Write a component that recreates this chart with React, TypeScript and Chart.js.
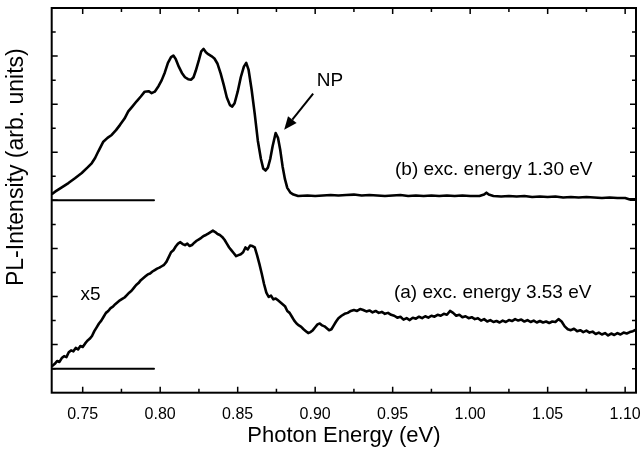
import React, { useEffect, useRef } from 'react';
import { Chart, registerables } from 'chart.js';
Chart.register(...registerables);

const FONT = "'Liberation Sans', Arial, Helvetica, sans-serif";

// (b) exc. energy 1.30 eV
const energyB = [
  0.7305, 0.7322, 0.7360, 0.7408, 0.7450, 0.7494, 0.7530, 0.7558, 0.7580, 0.7601, 0.7633,
  0.7660, 0.7687, 0.7715, 0.7741, 0.7770, 0.7794, 0.7820, 0.7848, 0.7875, 0.7900, 0.7925,
  0.7945, 0.7965, 0.7990, 0.8010, 0.8030, 0.8050, 0.8070, 0.8085, 0.8100, 0.8120, 0.8140,
  0.8160, 0.8180, 0.8200, 0.8215, 0.8230, 0.8250, 0.8265, 0.8280, 0.8295, 0.8310, 0.8330,
  0.8350, 0.8370, 0.8390, 0.8410, 0.8430, 0.8450, 0.8465, 0.8480, 0.8500, 0.8520, 0.8540,
  0.8555, 0.8570, 0.8590, 0.8610, 0.8630, 0.8650, 0.8665, 0.8680, 0.8695, 0.8710, 0.8725,
  0.8745, 0.8760, 0.8775, 0.8790, 0.8805, 0.8820, 0.8840, 0.8860, 0.8890, 0.8950, 0.9000,
  0.9050, 0.9100, 0.9150, 0.9200, 0.9250, 0.9300, 0.9350, 0.9400, 0.9450, 0.9500, 0.9550,
  0.9600, 0.9650, 0.9700, 0.9750, 0.9800, 0.9850, 0.9900, 0.9950, 1.0000, 1.0060, 1.0090,
  1.0105, 1.0120, 1.0150, 1.0200, 1.0250, 1.0300, 1.0350, 1.0400, 1.0450, 1.0500, 1.0550,
  1.0600, 1.0650, 1.0700, 1.0750, 1.0800, 1.0850, 1.0900, 1.0950, 1.1000, 1.1030, 1.1070,
];
const intensityB = [
  4.14, 4.18, 4.26, 4.36, 4.46, 4.57, 4.68, 4.77, 4.88, 5.02, 5.22,
  5.30, 5.36, 5.46, 5.57, 5.70, 5.85, 5.95, 6.06, 6.16, 6.26, 6.27,
  6.23, 6.26, 6.38, 6.50, 6.66, 6.86, 6.98, 7.01, 6.94, 6.78, 6.65,
  6.56, 6.52, 6.51, 6.56, 6.70, 6.92, 7.10, 7.15, 7.08, 7.04, 7.00,
  6.95, 6.84, 6.64, 6.40, 6.14, 5.98, 5.95, 6.02, 6.26, 6.56, 6.78,
  6.86, 6.72, 6.30, 5.80, 5.24, 4.86, 4.66, 4.62, 4.68, 4.86, 5.12,
  5.40, 5.30, 5.04, 4.70, 4.44, 4.26, 4.16, 4.12, 4.09, 4.10, 4.09,
  4.10, 4.11, 4.10, 4.11, 4.12, 4.10, 4.11, 4.10, 4.09, 4.10, 4.11,
  4.09, 4.10, 4.09, 4.10, 4.09, 4.10, 4.09, 4.10, 4.09, 4.09, 4.12,
  4.16, 4.12, 4.09, 4.08, 4.09, 4.08, 4.09, 4.07, 4.08, 4.07, 4.08,
  4.06, 4.07, 4.06, 4.07, 4.06, 4.05, 4.06, 4.05, 4.05, 4.02, 4.02,
];

// (a) exc. energy 3.53 eV (x5)
const energyA = [
  0.7305, 0.7320, 0.7335, 0.7350, 0.7365, 0.7380, 0.7395, 0.7410, 0.7425, 0.7440, 0.7455,
  0.7470, 0.7485, 0.7500, 0.7515, 0.7530, 0.7545, 0.7560, 0.7575, 0.7590, 0.7605, 0.7620,
  0.7635, 0.7650, 0.7665, 0.7680, 0.7695, 0.7710, 0.7725, 0.7740, 0.7755, 0.7770, 0.7785,
  0.7800, 0.7815, 0.7830, 0.7845, 0.7860, 0.7875, 0.7890, 0.7905, 0.7920, 0.7935, 0.7950,
  0.7965, 0.7980, 0.7995, 0.8010, 0.8025, 0.8040, 0.8055, 0.8070, 0.8085, 0.8100, 0.8115,
  0.8130, 0.8145, 0.8160, 0.8175, 0.8190, 0.8205, 0.8220, 0.8235, 0.8250, 0.8265, 0.8280,
  0.8295, 0.8310, 0.8325, 0.8340, 0.8355, 0.8370, 0.8385, 0.8400, 0.8415, 0.8430, 0.8445,
  0.8460, 0.8475, 0.8490, 0.8505, 0.8520, 0.8535, 0.8550, 0.8565, 0.8580, 0.8595, 0.8610,
  0.8625, 0.8640, 0.8655, 0.8670, 0.8685, 0.8700, 0.8715, 0.8730, 0.8745, 0.8760, 0.8775,
  0.8790, 0.8805, 0.8820, 0.8835, 0.8850, 0.8865, 0.8880, 0.8895, 0.8910, 0.8925, 0.8940,
  0.8955, 0.8970, 0.8985, 0.9000, 0.9015, 0.9030, 0.9045, 0.9060, 0.9075, 0.9090, 0.9105,
  0.9120, 0.9135, 0.9150, 0.9170, 0.9190, 0.9210, 0.9230, 0.9250, 0.9270, 0.9290, 0.9310,
  0.9330, 0.9350, 0.9370, 0.9390, 0.9410, 0.9430, 0.9450, 0.9470, 0.9490, 0.9510, 0.9530,
  0.9550, 0.9570, 0.9590, 0.9610, 0.9630, 0.9650, 0.9670, 0.9690, 0.9710, 0.9730, 0.9750,
  0.9770, 0.9790, 0.9810, 0.9830, 0.9850, 0.9870, 0.9890, 0.9910, 0.9930, 0.9950, 0.9970,
  0.9990, 1.0010, 1.0030, 1.0050, 1.0070, 1.0090, 1.0110, 1.0130, 1.0150, 1.0170, 1.0190,
  1.0210, 1.0230, 1.0250, 1.0270, 1.0290, 1.0310, 1.0330, 1.0350, 1.0370, 1.0390, 1.0410,
  1.0430, 1.0450, 1.0470, 1.0490, 1.0510, 1.0530, 1.0550, 1.0570, 1.0590, 1.0610, 1.0630,
  1.0650, 1.0670, 1.0690, 1.0710, 1.0730, 1.0750, 1.0770, 1.0790, 1.0810, 1.0830, 1.0850,
  1.0870, 1.0890, 1.0910, 1.0930, 1.0950, 1.0970, 1.0990, 1.1010, 1.1030, 1.1050, 1.1070,
];
const intensityA = [
  0.56, 0.60, 0.66, 0.64, 0.72, 0.76, 0.74, 0.84, 0.88, 0.86, 0.93,
  0.90, 0.97, 0.95, 1.02, 1.08, 1.12, 1.18, 1.28, 1.36, 1.44, 1.50,
  1.58, 1.66, 1.70, 1.76, 1.79, 1.84, 1.88, 1.92, 1.95, 1.98, 2.03,
  2.08, 2.12, 2.18, 2.24, 2.28, 2.34, 2.38, 2.42, 2.46, 2.48, 2.52,
  2.55, 2.58, 2.60, 2.63, 2.66, 2.72, 2.82, 2.92, 2.96, 3.04, 3.10,
  3.13, 3.09, 3.07, 3.10, 3.05, 3.07, 3.12, 3.16, 3.19, 3.22, 3.26,
  3.28, 3.31, 3.34, 3.37, 3.34, 3.30, 3.28, 3.24, 3.18, 3.10, 3.02,
  2.96, 2.90, 2.84, 2.86, 2.88, 2.92, 3.02, 2.98, 3.06, 3.05, 3.02,
  2.86, 2.68, 2.48, 2.26, 2.08, 1.99, 2.02, 1.94, 1.96, 1.92, 1.88,
  1.84, 1.80, 1.70, 1.66, 1.58, 1.50, 1.44, 1.40, 1.37, 1.32, 1.28,
  1.24, 1.26, 1.30, 1.36, 1.42, 1.44, 1.40, 1.38, 1.34, 1.30, 1.32,
  1.40, 1.48, 1.55, 1.60, 1.64, 1.66, 1.70, 1.72, 1.70, 1.74, 1.72,
  1.69, 1.71, 1.67, 1.70, 1.66, 1.68, 1.64, 1.66, 1.62, 1.60, 1.56,
  1.58, 1.52, 1.55, 1.51, 1.56, 1.54, 1.58, 1.55, 1.59, 1.56, 1.60,
  1.58, 1.62, 1.60, 1.64, 1.62, 1.70, 1.66, 1.60, 1.62, 1.57, 1.59,
  1.55, 1.57, 1.53, 1.55, 1.50, 1.53, 1.48, 1.51, 1.47, 1.49, 1.46,
  1.50, 1.47, 1.51, 1.49, 1.53, 1.50, 1.52, 1.48, 1.51, 1.47, 1.50,
  1.46, 1.49, 1.46, 1.48, 1.45, 1.48, 1.47, 1.53, 1.48, 1.38, 1.32,
  1.30, 1.33, 1.28, 1.30, 1.26, 1.29, 1.25, 1.27, 1.22, 1.25, 1.21,
  1.24, 1.19, 1.23, 1.20, 1.24, 1.21, 1.25, 1.23, 1.26, 1.28, 1.31,
];

// zero lines of both spectra
const baselineEnergy = [0.73, 0.796];
const baselineB = [4, 4];
const baselineA = [0.5, 0.5];

// axis ticks
const xMajorTicks = [0.75, 0.8, 0.85, 0.9, 0.95, 1.0, 1.05, 1.1];
const xMinorTicks = [0.775, 0.825, 0.875, 0.925, 0.975, 1.025, 1.075];
const yMajorTicks = [1, 2, 3, 4, 5, 6, 7];
const yMinorTicks = [0.5, 1.5, 2.5, 3.5, 4.5, 5.5, 6.5, 7.5];

const toPts = (xs: number[], ys: number[]) => xs.map((x, i) => ({ x, y: ys[i] }));

export default function App() {
  const ref = useRef<HTMLCanvasElement>(null);
  useEffect(() => {
    document.body.style.margin = '0';
    const decor = {
      id: 'decor',
      afterDraw(chart: any) {
        const { ctx, chartArea: a, scales } = chart;
        const x = scales.x, y = scales.y;
        ctx.save();
        ctx.strokeStyle = '#000';
        ctx.fillStyle = '#000';
        ctx.lineWidth = 2;
        ctx.strokeRect(a.left, a.top, a.right - a.left, a.bottom - a.top);
        ctx.lineWidth = 1.5;
        const xt = (vals: number[], len: number) => {
          vals.forEach((v) => {
            const p = x.getPixelForValue(v);
            ctx.beginPath();
            ctx.moveTo(p, a.bottom); ctx.lineTo(p, a.bottom - len);
            ctx.moveTo(p, a.top); ctx.lineTo(p, a.top + len);
            ctx.stroke();
          });
        };
        const yt = (vals: number[], len: number) => {
          vals.forEach((v) => {
            const p = y.getPixelForValue(v);
            ctx.beginPath();
            ctx.moveTo(a.left, p); ctx.lineTo(a.left + len, p);
            ctx.moveTo(a.right, p); ctx.lineTo(a.right - len, p);
            ctx.stroke();
          });
        };
        xt(xMajorTicks, 6); xt(xMinorTicks, 4);
        yt(yMajorTicks, 6); yt(yMinorTicks, 4);

        // annotations
        ctx.font = `19px ${FONT}`;
        ctx.textBaseline = 'middle';
        ctx.textAlign = 'left';
        ctx.fillText('(b) exc. energy 1.30 eV', x.getPixelForValue(0.9515), y.getPixelForValue(4.635));
        ctx.fillText('(a) exc. energy 3.53 eV', x.getPixelForValue(0.9508), y.getPixelForValue(2.075));
        ctx.textAlign = 'center';
        ctx.fillText('x5', x.getPixelForValue(0.755), y.getPixelForValue(2.044));
        ctx.fillText('NP', x.getPixelForValue(0.9096), y.getPixelForValue(6.477));

        // arrow to NP peak
        const x0 = x.getPixelForValue(0.8987), y0 = y.getPixelForValue(6.218);
        const x1 = x.getPixelForValue(0.880), y1 = y.getPixelForValue(5.467);
        const ang = Math.atan2(y1 - y0, x1 - x0);
        const hl = 13, hw = 5.5;
        const bx = x1 - hl * Math.cos(ang), by = y1 - hl * Math.sin(ang);
        ctx.lineWidth = 2;
        ctx.beginPath(); ctx.moveTo(x0, y0); ctx.lineTo(bx, by); ctx.stroke();
        ctx.beginPath();
        ctx.moveTo(x1, y1);
        ctx.lineTo(bx + hw * Math.sin(ang), by - hw * Math.cos(ang));
        ctx.lineTo(bx - hw * Math.sin(ang), by + hw * Math.cos(ang));
        ctx.closePath(); ctx.fill();

        // y axis title
        ctx.save();
        ctx.translate(a.left - 35.5, y.getPixelForValue(4.69));
        ctx.rotate(-Math.PI / 2);
        ctx.font = `23px ${FONT}`;
        ctx.textAlign = 'center';
        ctx.textBaseline = 'middle';
        ctx.fillText('PL-Intensity (arb. units)', 0, 0);
        ctx.restore();
        ctx.restore();
      },
    };

    const line = (data: any[], w: number) => ({
      data,
      borderColor: '#000',
      backgroundColor: '#000',
      borderWidth: w,
      pointRadius: 0,
      tension: 0,
      borderJoinStyle: 'round' as const,
      borderCapStyle: 'round' as const,
    });

    const chart = new Chart(ref.current as HTMLCanvasElement, {
      type: 'line',
      data: {
        datasets: [
          line(toPts(energyB, intensityB), 2.6),
          line(toPts(energyA, intensityA), 2.6),
          line(toPts(baselineEnergy, baselineB), 2),
          line(toPts(baselineEnergy, baselineA), 2),
        ],
      },
      options: {
        responsive: false,
        animation: false,
        layout: { padding: { top: 8, right: 6, left: 0, bottom: 0 } },
        plugins: { legend: { display: false }, tooltip: { enabled: false } },
        scales: {
          x: {
            type: 'linear',
            min: 0.73,
            max: 1.107,
            grid: { display: false, drawTicks: false },
            border: { display: false },
            afterBuildTicks: (s: any) => { s.ticks = xMajorTicks.map((v) => ({ value: v })); },
            afterFit: (s: any) => { s.height = 60.3; s.paddingLeft = 0; s.paddingRight = 0; },
            ticks: {
              padding: 12,
              color: '#000',
              font: { family: FONT, size: 16 },
              callback: (v: any) => Number(v).toFixed(2),
              maxRotation: 0,
              autoSkip: false,
            },
            title: {
              display: true,
              text: 'Photon Energy (eV)',
              color: '#000',
              font: { family: FONT, size: 22 },
              padding: { top: 0, bottom: 4 },
            },
          },
          y: {
            type: 'linear',
            min: 0,
            max: 8,
            grid: { display: false, drawTicks: false },
            border: { display: false },
            ticks: { display: false },
            afterFit: (s: any) => { s.width = 51.7; },
          },
        },
      },
      plugins: [decor],
    });
    return () => chart.destroy();
  }, []);
  return (
    <div style={{ width: 642, height: 453 }}>
      <canvas ref={ref} width={642} height={453} style={{ display: 'block' }} />
    </div>
  );
}
